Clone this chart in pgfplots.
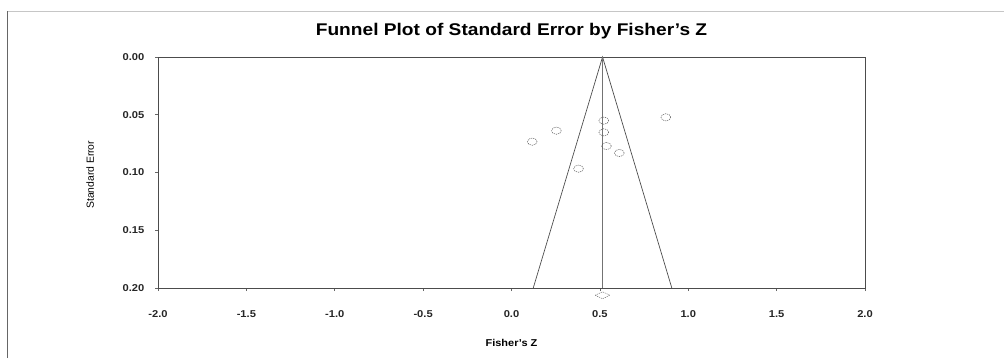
\documentclass[border=0pt]{standalone}
\usepackage{fontspec}
\setmainfont{Liberation Sans}
\usepackage{pgfplots}
\pgfplotsset{compat=1.18}
\begin{document}
\begin{tikzpicture}[x=1bp,y=1bp]
\path[use as bounding box] (0,0) rectangle (1004,358);
\draw[gray!45, line width=0.9bp] (7,347) -- (1004,347);
\draw[black!60, line width=1bp] (7,0) -- (7,347);
\begin{axis}[
  at={(158bp,70bp)}, anchor=south west,
  scale only axis, width=707bp, height=231bp,
  xmin=-2, xmax=2, ymin=0, ymax=0.2,
  y dir=reverse,
  xtick={-2,-1.5,...,2},
  ytick={0,0.05,0.1,0.15,0.2},
  x tick label style={/pgf/number format/fixed, /pgf/number format/fixed zerofill, /pgf/number format/precision=1, yshift=-16bp},
  y tick label style={/pgf/number format/fixed, /pgf/number format/fixed zerofill, /pgf/number format/precision=2, xshift=-6bp},
  /pgf/number format/assume math mode=true,
  tick label style={font=\bfseries\fontsize{10}{12}\selectfont, black!85, xscale=1.12},
  xtick pos=bottom, ytick pos=left,
  tick align=outside,
  major tick length=3bp,
  tick style={black!60, line width=0.6bp},
  axis line style={black!70, line width=0.8bp},
  title={Funnel Plot of Standard Error by Fisher's Z},
  title style={font=\bfseries\fontsize{17}{20}\selectfont, at={(0.5,1)}, anchor=center, yshift=20bp, xscale=1.13},
  xlabel={Fisher's Z},
  xlabel style={font=\bfseries\fontsize{10}{12}\selectfont, at={(0.5,0)}, anchor=center, yshift=-55bp, xscale=1.1},
  ylabel={Standard Error},
  ylabel style={font=\fontsize{10.4}{12}\selectfont, at={(axis description cs:-0.096,0.49)}, anchor=center},
  clip=false,
]
% funnel
\addplot[black!70, line width=0.7bp] coordinates {(0.123,0.2) (0.515,0) (0.907,0.2)};
% summary line
\addplot[black!55, line width=0.8bp] coordinates {(0.515,0) (0.515,0.2)};
% studies
\addplot[only marks, mark=o, mark size=3.6bp,
  mark options={xscale=1.35, black!65, line width=0.5bp, dash pattern=on 1.2bp off 0.9bp}]
  coordinates {
  (0.873,0.0522)
  (0.522,0.0551)
  (0.254,0.0638)
  (0.522,0.0652)
  (0.117,0.0733)
  (0.537,0.0771)
  (0.610,0.0831)
  (0.379,0.0967)
};
% summary diamond
\addplot[black!55, line width=0.5bp, dash pattern=on 1.2bp off 0.9bp] coordinates {
  (0.473,0.2063) (0.515,0.2033) (0.557,0.2063) (0.515,0.2093) (0.473,0.2063)};
\end{axis}
\end{tikzpicture}
\end{document}
